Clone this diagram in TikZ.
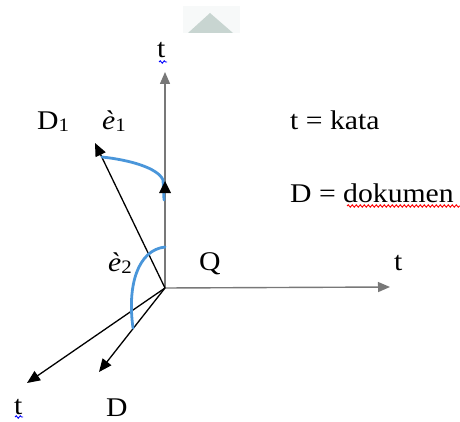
\documentclass[tikz,border=0pt]{standalone}
\usepackage{fontspec}
\setmainfont{Liberation Serif}[FakeStretch=1.1]
\usetikzlibrary{arrows.meta,decorations.pathmorphing}
\definecolor{arcblue}{RGB}{74,150,218}
\definecolor{axisgray}{RGB}{120,120,120}
\definecolor{wmtri}{RGB}{200,213,209}
\definecolor{wmbg}{RGB}{247,249,249}
\tikzset{
  lbl/.style={inner sep=0pt, anchor=base west, font=\fontsize{27}{27}\selectfont},
  axis/.style={draw=axisgray, line width=1.4pt, -{Triangle[length=12pt,width=10pt]}},
  vec/.style={draw=black, line width=1.3pt, -{Triangle[length=13pt,width=11pt]}},
  arcline/.style={draw=arcblue, line width=2.8pt, line cap=round},
  squig/.style={line width=0.9pt, decorate, decoration={snake, amplitude=1.2pt, segment length=4pt}}
}
\newcommand{\subnum}[1]{\raisebox{-2pt}{\fontsize{19}{19}\selectfont #1}}
\begin{document}
\begin{tikzpicture}[x=1pt,y=-1pt]
\useasboundingbox (0,0) rectangle (460,422);
% faint watermark triangle
\fill[wmbg] (183,6) rectangle (240,33);
\fill[wmtri] (210,13) -- (233,33) -- (188,33) -- cycle;
% points
\coordinate (O) at (165,288);
\coordinate (vt) at (165,72);
\coordinate (ht) at (390,287);
\coordinate (d1) at (95,143);
\coordinate (dd) at (99,372);
\coordinate (lt) at (27,383);
% axes and vectors
\draw[axis] (O) -- (vt);
\draw[axis] (O) -- (ht);
\draw[vec] (O) -- (d1);
\draw[vec] (O) -- (dd);
\draw[vec] (O) -- (lt);
% angle arcs
\coordinate (a1s) at (102,157);
\coordinate (a1e) at (164,200);
\draw[arcline] (a1s) .. controls (130,160) and (158,168) .. (163,180) -- (a1e);
\fill[black] (165,181) -- (171,193) -- (159,193) -- cycle;
\coordinate (a2s) at (165,247);
\coordinate (a2e) at (133,328);
\draw[arcline] (a2s) .. controls (138,250) and (127,285) .. (a2e);
% labels
\node[lbl] (tTop) at (157,58) {t};
\node[lbl] (D1) at (37,130) {D\subnum{1}};
\node[lbl] (e1) at (102,130) {\textit{è}\subnum{1}};
\node[lbl] (kata) at (290,130) {t = kata};
\node[lbl] (dok) at (290,202) {D = dokumen};
\node[lbl] (tRight) at (394,270) {t};
\node[lbl] (Q) at (199,270) {Q};
\node[lbl] (e2) at (108,271) {\textit{è}\subnum{2}};
\node[lbl] (tLow) at (14,414) {t};
\node[lbl] (Dlow) at (106,416) {D};
% spell-check squiggles
\draw[squig, blue] (159,62) -- (167,62);
\draw[squig, blue] (15,417) -- (23,417);
\draw[squig, red] (347,206) -- (460,206);
\end{tikzpicture}
\end{document}
